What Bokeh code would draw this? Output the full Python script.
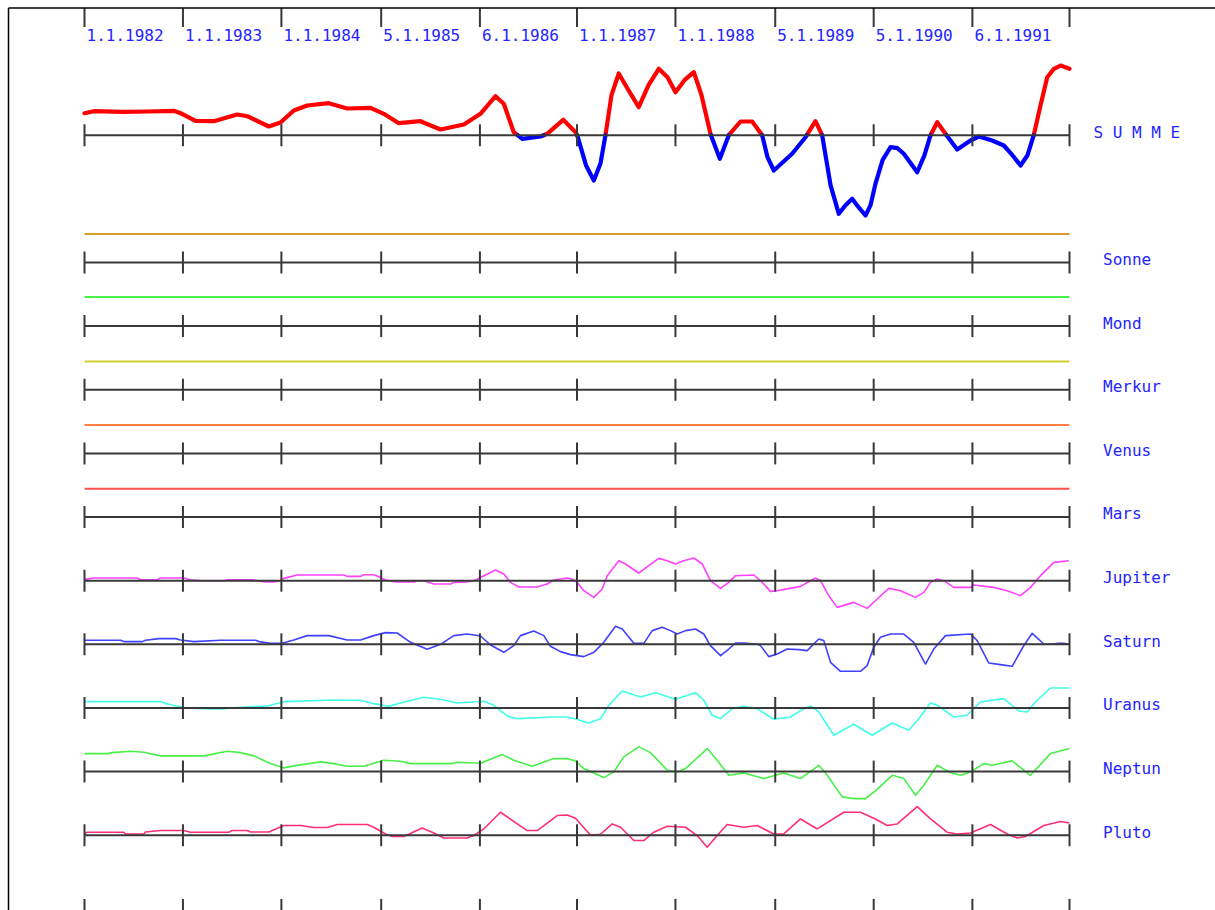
from datetime import date
from bokeh.plotting import figure
from bokeh.models import Range1d
from bokeh.embed import file_html
from bokeh.resources import INLINE
from bokeh.core.properties import value

# ---------------- data ----------------
tick_labels = ["1.1.1982", "1.1.1983", "1.1.1984", "5.1.1985", "6.1.1986",
               "1.1.1987", "1.1.1988", "5.1.1989", "5.1.1990", "6.1.1991", ""]
tick_dates = [date(1982, 1, 1), date(1983, 1, 1), date(1984, 1, 1), date(1985, 1, 5),
              date(1986, 1, 6), date(1987, 1, 1), date(1988, 1, 1), date(1989, 1, 5),
              date(1990, 1, 5), date(1991, 1, 6), date(1992, 1, 1)]

row_labels = ["Sonne", "Mond", "Merkur", "Venus", "Mars",
              "Jupiter", "Saturn", "Uranus", "Neptun", "Pluto"]
row_colors = ["#d4a02a", "#48f048", "#d0d030", "#ff8040", "#ff5050",
              "#ff40ff", "#4040ff", "#40ffe8", "#48f048", "#ff3070"]

# constant planets (value above baseline)
sonne_v = 28.6
mond_v = 29.0
merkur_v = 28.3
venus_v = 28.5
mars_v = 28.3

# time in years since 1.1.1982
summe_t = [0.000, 0.094, 0.399, 0.637, 0.907, 0.975, 1.127, 1.313, 1.550, 1.652, 1.871, 1.990,
           2.125, 2.261, 2.480, 2.667, 2.904, 3.039, 3.191, 3.411, 3.614, 3.851, 4.020, 4.173,
           4.257, 4.358, 4.444, 4.629, 4.697, 4.860, 4.985, 5.002, 5.091, 5.171, 5.239, 5.289,
           5.350, 5.424, 5.523, 5.627, 5.726, 5.830, 5.919, 6.000, 6.091, 6.186, 6.264, 6.355,
           6.450, 6.541, 6.660, 6.779, 6.880, 6.934, 6.998, 7.184, 7.320, 7.421, 7.489, 7.574,
           7.658, 7.726, 7.794, 7.858, 7.929, 7.980, 8.030, 8.102, 8.183, 8.254, 8.318, 8.454,
           8.528, 8.589, 8.657, 8.741, 8.860, 8.995, 9.079, 9.215, 9.333, 9.421, 9.503, 9.574,
           9.637, 9.706, 9.774, 9.838, 9.909, 10.000]
summe_v = [22, 24, 23.4, 23.7, 24.4, 22, 14.4, 14, 20.7, 19, 8.7, 12.7,
           24.7, 29.7, 32, 26.7, 27.4, 21.4, 12, 14, 5.7, 10.7, 21.4, 39,
           31.4, 3, -3.6, -1.3, 1.4, 15.4, 3, 0, -30, -45.3, -28, 0,
           40, 61.7, 45, 28, 50, 66.4, 58, 43, 55, 63, 40, 1.4,
           -23.6, 0, 13.7, 13.7, 0, -22, -35.3, -18.6, -2, 14, 0, -50,
           -78.6, -70, -63.6, -72, -80.3, -70, -48.6, -25, -12, -13, -18.6, -37,
           -20, 0, 13, 1.4, -14.3, -5.3, -1.3, -5.3, -10.3, -20, -30.3, -20,
           0, 30, 58, 66, 69.7, 66.4]

jupiter_t = [0.000, 0.094, 0.535, 0.569, 0.738, 0.772, 1.008, 1.076, 1.178, 1.414, 1.449, 1.719,
             1.753, 1.838, 1.922, 1.990, 2.023, 2.159, 2.632, 2.667, 2.802, 2.836, 2.937, 2.988,
             3.056, 3.157, 3.343, 3.378, 3.445, 3.547, 3.716, 3.749, 3.885, 3.970, 4.054, 4.173,
             4.257, 4.325, 4.409, 4.596, 4.697, 4.764, 4.832, 4.901, 4.954, 5.002, 5.069, 5.171,
             5.256, 5.307, 5.424, 5.492, 5.627, 5.729, 5.830, 5.916, 6.000, 6.084, 6.186, 6.271,
             6.355, 6.457, 6.541, 6.609, 6.795, 6.880, 6.964, 7.032, 7.269, 7.371, 7.421, 7.472,
             7.556, 7.642, 7.810, 7.946, 8.048, 8.165, 8.284, 8.437, 8.521, 8.589, 8.657, 8.724,
             8.825, 8.995, 9.028, 9.231, 9.367, 9.503, 9.604, 9.706, 9.841, 9.993]
jupiter_v = [1.3, 2.7, 2.7, 1, 1, 2.7, 2.7, 1, 0, 0, 1, 1,
             0, -1.3, -1.3, 0, 2.3, 5.7, 5.7, 4.3, 4.3, 6, 6, 4,
             0.7, -1.3, -1.3, 0, 0, -3.3, -3.3, -1.7, -1.3, 0.7, 5, 10.7,
             6.7, -1.7, -6.3, -6.3, -3.3, 0.7, 1.7, 2.7, 1.5, -1.7, -10, -16.7,
             -8.3, 5, 20, 16.7, 7.7, 15, 22.3, 20, 16.7, 20, 22.7, 16.7,
             0, -7.7, -1.7, 5, 5.7, -1.7, -10.7, -10, -5.7, 0, 2.7, 0,
             -15, -26.7, -21.7, -27.7, -18.3, -7.7, -10, -16.7, -11.7, -1.7, 1.7, 0,
             -6.7, -6.7, -4.3, -6.7, -10, -15, -6.7, 5, 18.3, 20]

saturn_t = [0.000, 0.365, 0.399, 0.586, 0.619, 0.754, 0.924, 0.975, 1.110, 1.381, 1.736, 1.770,
            1.888, 2.007, 2.125, 2.261, 2.480, 2.667, 2.802, 2.937, 3.056, 3.175, 3.310, 3.479,
            3.614, 3.749, 3.885, 4.020, 4.122, 4.257, 4.358, 4.426, 4.561, 4.663, 4.731, 4.832,
            4.934, 5.069, 5.171, 5.272, 5.391, 5.459, 5.577, 5.678, 5.764, 5.865, 5.949, 6.017,
            6.102, 6.203, 6.287, 6.355, 6.457, 6.541, 6.609, 6.693, 6.829, 6.863, 6.947, 7.032,
            7.134, 7.252, 7.337, 7.455, 7.506, 7.574, 7.675, 7.878, 7.946, 8.013, 8.081, 8.183,
            8.318, 8.419, 8.538, 8.622, 8.741, 8.995, 9.063, 9.181, 9.299, 9.418, 9.536, 9.621,
            9.739, 9.807, 9.891, 9.942, 9.993]
saturn_v = [4, 4, 2.7, 2.7, 4, 5.7, 5.7, 4.3, 2.7, 4, 4, 2.7,
            1, 1, 4.3, 8.7, 8.7, 4.3, 4.3, 8.7, 11.7, 11.3, 2, -5,
            0, 8.7, 10.3, 8.3, -0.7, -8, -1.3, 8.7, 13.3, 8.7, -2, -7.3,
            -10.3, -12.3, -8, 2, 18, 15.3, 1, 1, 13.7, 17, 13.7, 10.3,
            13.7, 15.3, 10.3, -1.3, -11.3, -4.7, 1.3, 1.3, 0, -1.3, -12.3, -9.7,
            -4.7, -5.3, -6.3, 5.3, 3.7, -18, -27, -27, -21.3, -3, 7, 10.3,
            10.3, 2, -19.7, -4.7, 8.7, 10.3, 3.7, -18.7, -20.3, -22, -1.3, 11,
            0.3, 0, 1, 1, 0]

uranus_t = [0.000, 0.772, 0.873, 0.975, 1.043, 1.279, 1.414, 1.482, 1.719, 1.855, 2.023, 2.531,
            2.802, 2.937, 3.089, 3.208, 3.445, 3.614, 3.784, 4.054, 4.155, 4.291, 4.393, 4.764,
            4.901, 4.995, 5.120, 5.239, 5.323, 5.459, 5.645, 5.797, 6.000, 6.203, 6.287, 6.373,
            6.457, 6.576, 6.693, 6.829, 6.998, 7.168, 7.303, 7.371, 7.455, 7.607, 7.810, 7.997,
            8.200, 8.368, 8.470, 8.589, 8.657, 8.825, 8.961, 9.096, 9.333, 9.485, 9.570, 9.655,
            9.807, 10.000]
uranus_v = [6.3, 6.3, 3.3, 1.3, 0, -1, -1, 0, 1.3, 2, 6.3, 8,
            7.7, 4.3, 1.7, 5, 10.7, 8.7, 5, 6.7, 2.7, -8, -10.7, -9,
            -9, -11.3, -15, -10.7, 2.7, 17, 11, 15.3, 8.7, 15.3, 7.7, -7.3,
            -10.7, -0.7, 1.7, -0.7, -11.3, -9, -0.7, 2, -4, -27.3, -16.3, -27.3,
            -15, -22.3, -10.7, 5, 2.7, -9, -7.3, 6, 9.3, -3, -4, 6,
            20, 20]

neptun_t = [0.000, 0.230, 0.281, 0.467, 0.602, 0.772, 1.211, 1.449, 1.584, 1.719, 1.888, 2.023,
            2.125, 2.396, 2.531, 2.667, 2.836, 3.039, 3.208, 3.310, 3.716, 3.784, 4.020, 4.241,
            4.358, 4.545, 4.764, 4.901, 4.985, 5.069, 5.272, 5.374, 5.475, 5.627, 5.746, 5.916,
            6.017, 6.102, 6.322, 6.423, 6.541, 6.693, 6.896, 7.099, 7.269, 7.455, 7.541, 7.692,
            7.810, 7.929, 8.030, 8.200, 8.318, 8.437, 8.521, 8.657, 8.775, 8.893, 8.995, 9.130,
            9.215, 9.418, 9.604, 9.807, 10.000]
neptun_v = [18, 18, 19, 20.3, 19.3, 15.7, 15.7, 20.3, 19, 15.7, 8, 3.7,
            5.7, 9.7, 8, 5.3, 5.3, 11.3, 10.3, 8, 8, 9.3, 8.3, 17,
            11.3, 5.3, 13, 13, 10.5, 3, -6, -0.3, 14.7, 24.7, 19, 1.3,
            -0.3, 3, 23, 11.3, -3.7, -1.3, -7, -1.3, -7, 6.3, -3.7, -25.3,
            -27, -27, -19.3, -3.7, -7, -23.7, -13.7, 6.3, -0.3, -3.7, -0.3, 8,
            6.3, 10.7, -3.7, 18, 23]

pluto_t = [0.000, 0.027, 0.399, 0.416, 0.602, 0.619, 0.772, 1.008, 1.076, 1.465, 1.499, 1.652,
           1.685, 1.871, 2.023, 2.193, 2.328, 2.464, 2.566, 2.870, 2.937, 3.056, 3.124, 3.242,
           3.428, 3.547, 3.648, 3.885, 3.952, 4.054, 4.223, 4.494, 4.596, 4.799, 4.901, 4.985,
           5.036, 5.137, 5.239, 5.357, 5.442, 5.577, 5.678, 5.780, 5.916, 6.102, 6.220, 6.322,
           6.423, 6.525, 6.693, 6.829, 6.998, 7.099, 7.269, 7.439, 7.709, 7.878, 8.030, 8.149,
           8.251, 8.454, 8.589, 8.757, 8.858, 8.995, 9.198, 9.367, 9.469, 9.553, 9.739, 9.909,
           10.000]
pluto_v = [1.7, 3, 3, 1.3, 1.3, 3.3, 4.7, 4.7, 3, 3, 4.7, 4.7,
           3.3, 3.3, 9.7, 9.7, 7.7, 7.7, 10.7, 10.7, 8, 1.3, -1.3, -1.3,
           7.3, 2.3, -2.7, -2.7, -0.3, 6.3, 23, 4.7, 4.7, 19.7, 20.3, 17,
           11.3, 0.3, 1, 11.3, 8, -5.3, -5.3, 3, 9, 8, -0.3, -12,
           -0.3, 10.7, 8, 9.7, 1.3, 1.3, 16.3, 6.3, 23, 23, 16.3, 9.7,
           11.3, 28.7, 16.3, 3, 1.3, 2.3, 10.7, 1.3, -2.7, -1.3, 9.7, 13.7,
           12.3]

# ---------------- layout ----------------
PXY = 98.5          # pixels per year
ROW_H = 63.64       # pixels per row
W, H = 1215, 910
X0 = -84 / PXY
X1 = X0 + W / PXY
Y1 = 134.7
Y0 = Y1 - H

AX = "#383838"
TXT = "#2424ff"
FONT = value("DejaVu Sans Mono")

ticks = [(d - date(1982, 1, 1)).days / 365.2 for d in tick_dates]
t_end = ticks[-1]

p = figure(width=W, height=H, x_range=Range1d(X0, X1), y_range=Range1d(Y0, Y1),
           output_backend="svg", toolbar_location=None, min_border=0,
           x_axis_type=None, y_axis_type=None)
p.grid.visible = False
p.outline_line_color = None
p.background_fill_color = "white"
p.border_fill_color = "white"


def row_y(k):
    return -k * ROW_H


def split_sign(t, v):
    pos, neg = [], []
    ct, cv = [t[0]], [v[0]]
    sign = v[0] >= 0
    for i in range(1, len(t)):
        s = v[i] >= 0
        if s != sign:
            t0, v0, t1, v1 = t[i - 1], v[i - 1], t[i], v[i]
            tc = t0 + (0 - v0) * (t1 - t0) / (v1 - v0)
            ct.append(tc)
            cv.append(0)
            (pos if sign else neg).append((ct, cv))
            ct, cv = [tc], [0]
            sign = s
        ct.append(t[i])
        cv.append(v[i])
    (pos if sign else neg).append((ct, cv))
    return pos, neg


# SUMME
pos, neg = split_sign(summe_t, summe_v)
p.multi_line([s[0] for s in pos], [s[1] for s in pos], line_color="#ff0000",
             line_width=4.2, line_join="round", line_cap="round")
p.multi_line([s[0] for s in neg], [s[1] for s in neg], line_color="#0000ff",
             line_width=4.2, line_join="round", line_cap="round")

# constant planets
const_vals = [sonne_v, mond_v, merkur_v, venus_v, mars_v]
for i, cv in enumerate(const_vals):
    k = i + 2
    p.line([ticks[0], t_end], [row_y(k) + cv, row_y(k) + cv],
           line_color=row_colors[i], line_width=2)

# varying planets
series = [(jupiter_t, jupiter_v), (saturn_t, saturn_v), (uranus_t, uranus_v),
          (neptun_t, neptun_v), (pluto_t, pluto_v)]
for j, (ts, vs) in enumerate(series):
    k = j + 7
    p.line(ts, [row_y(k) + v for v in vs], line_color=row_colors[j + 5],
           line_width=1.6, line_join="round")

# axes rows (SUMME row 0, planets rows 2..11)
for k in [0] + list(range(2, 12)):
    y = row_y(k)
    p.line([ticks[0], t_end], [y, y], line_color=AX, line_width=2)
    p.segment(ticks, [y - 11] * len(ticks), ticks, [y + 11] * len(ticks),
              line_color=AX, line_width=2)

# top ticks hanging from the border, bottom ticks
top = row_y(-2)
p.segment(ticks, [top] * len(ticks), ticks, [top - 19] * len(ticks),
          line_color=AX, line_width=2)
bot = row_y(12)
p.segment(ticks, [bot] * len(ticks), ticks, [bot - 19] * len(ticks),
          line_color=AX, line_width=2)

# frame (top and left border, meeting in a corner)
left = X0 + 8 / PXY
p.line([left, X1], [top, top], line_color="black", line_width=1.5)
p.line([left, left], [top, Y0], line_color="black", line_width=1.5)

# date labels
p.text([t + 2 / PXY for t in ticks[:-1]], [top - 27.5] * (len(ticks) - 1), text=tick_labels[:-1],
       text_font=FONT, text_font_size="16px", text_color=TXT,
       text_align="left", text_baseline="alphabetic")

# row labels
p.text([t_end + 24 / PXY], [row_y(0) + 3.1], text=["S U M M E"],
       text_font=FONT, text_font_size="16px", text_color=TXT,
       text_align="left", text_baseline="alphabetic")
p.text([t_end + 33.5 / PXY] * len(row_labels), [row_y(k) + 3.1 for k in range(2, 12)],
       text=row_labels, text_font=FONT, text_font_size="16px", text_color=TXT,
       text_align="left", text_baseline="alphabetic")

open("out.html", "w").write(file_html(p, INLINE))
